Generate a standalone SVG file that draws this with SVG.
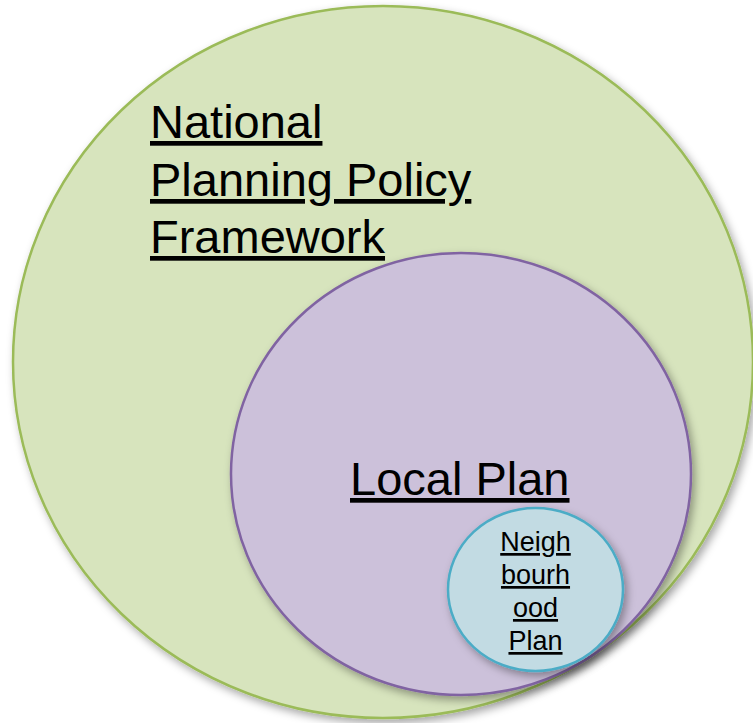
<svg xmlns="http://www.w3.org/2000/svg" width="753" height="723" viewBox="0 0 753 723">
  <style>
    .lbl { font-family: "Liberation Sans", Arial, sans-serif; fill: #000; text-decoration: underline; }
    .big { font-size: 47px; }
    .small { font-size: 27px; }
  </style>
  <defs>
    <filter id="sh" x="-10%" y="-10%" width="125%" height="125%">
      <feDropShadow dx="3" dy="4" stdDeviation="4" flood-color="#000" flood-opacity="0.35"/>
    </filter>
  </defs>
  <rect width="753" height="723" fill="#ffffff"/>
  <g id="national">
    <ellipse cx="383" cy="362" rx="370" ry="356" fill="#d7e4bd" stroke="#9bbb59" stroke-width="2.5" filter="url(#sh)"/>
    <text class="lbl big" x="150" y="138">National</text>
    <text class="lbl big" x="150" y="196">Planning Policy</text>
    <text class="lbl big" x="150" y="253">Framework</text>
  </g>
  <g id="local">
    <ellipse cx="461" cy="474" rx="230" ry="221" fill="#ccc1da" stroke="#8064a2" stroke-width="2.5" filter="url(#sh)"/>
    <text class="lbl big" x="350" y="495">Local Plan</text>
  </g>
  <g id="neighbourhood">
    <ellipse cx="535.5" cy="589.5" rx="87.5" ry="81.5" fill="#c2dbe3" stroke="#4bacc6" stroke-width="2.5" filter="url(#sh)"/>
    <text class="lbl small" x="535.5" y="551" text-anchor="middle">Neigh</text>
    <text class="lbl small" x="535.5" y="584" text-anchor="middle">bourh</text>
    <text class="lbl small" x="535.5" y="617" text-anchor="middle">ood</text>
    <text class="lbl small" x="535.5" y="650" text-anchor="middle">Plan</text>
  </g>
  <g id="connectors"/>
</svg>
